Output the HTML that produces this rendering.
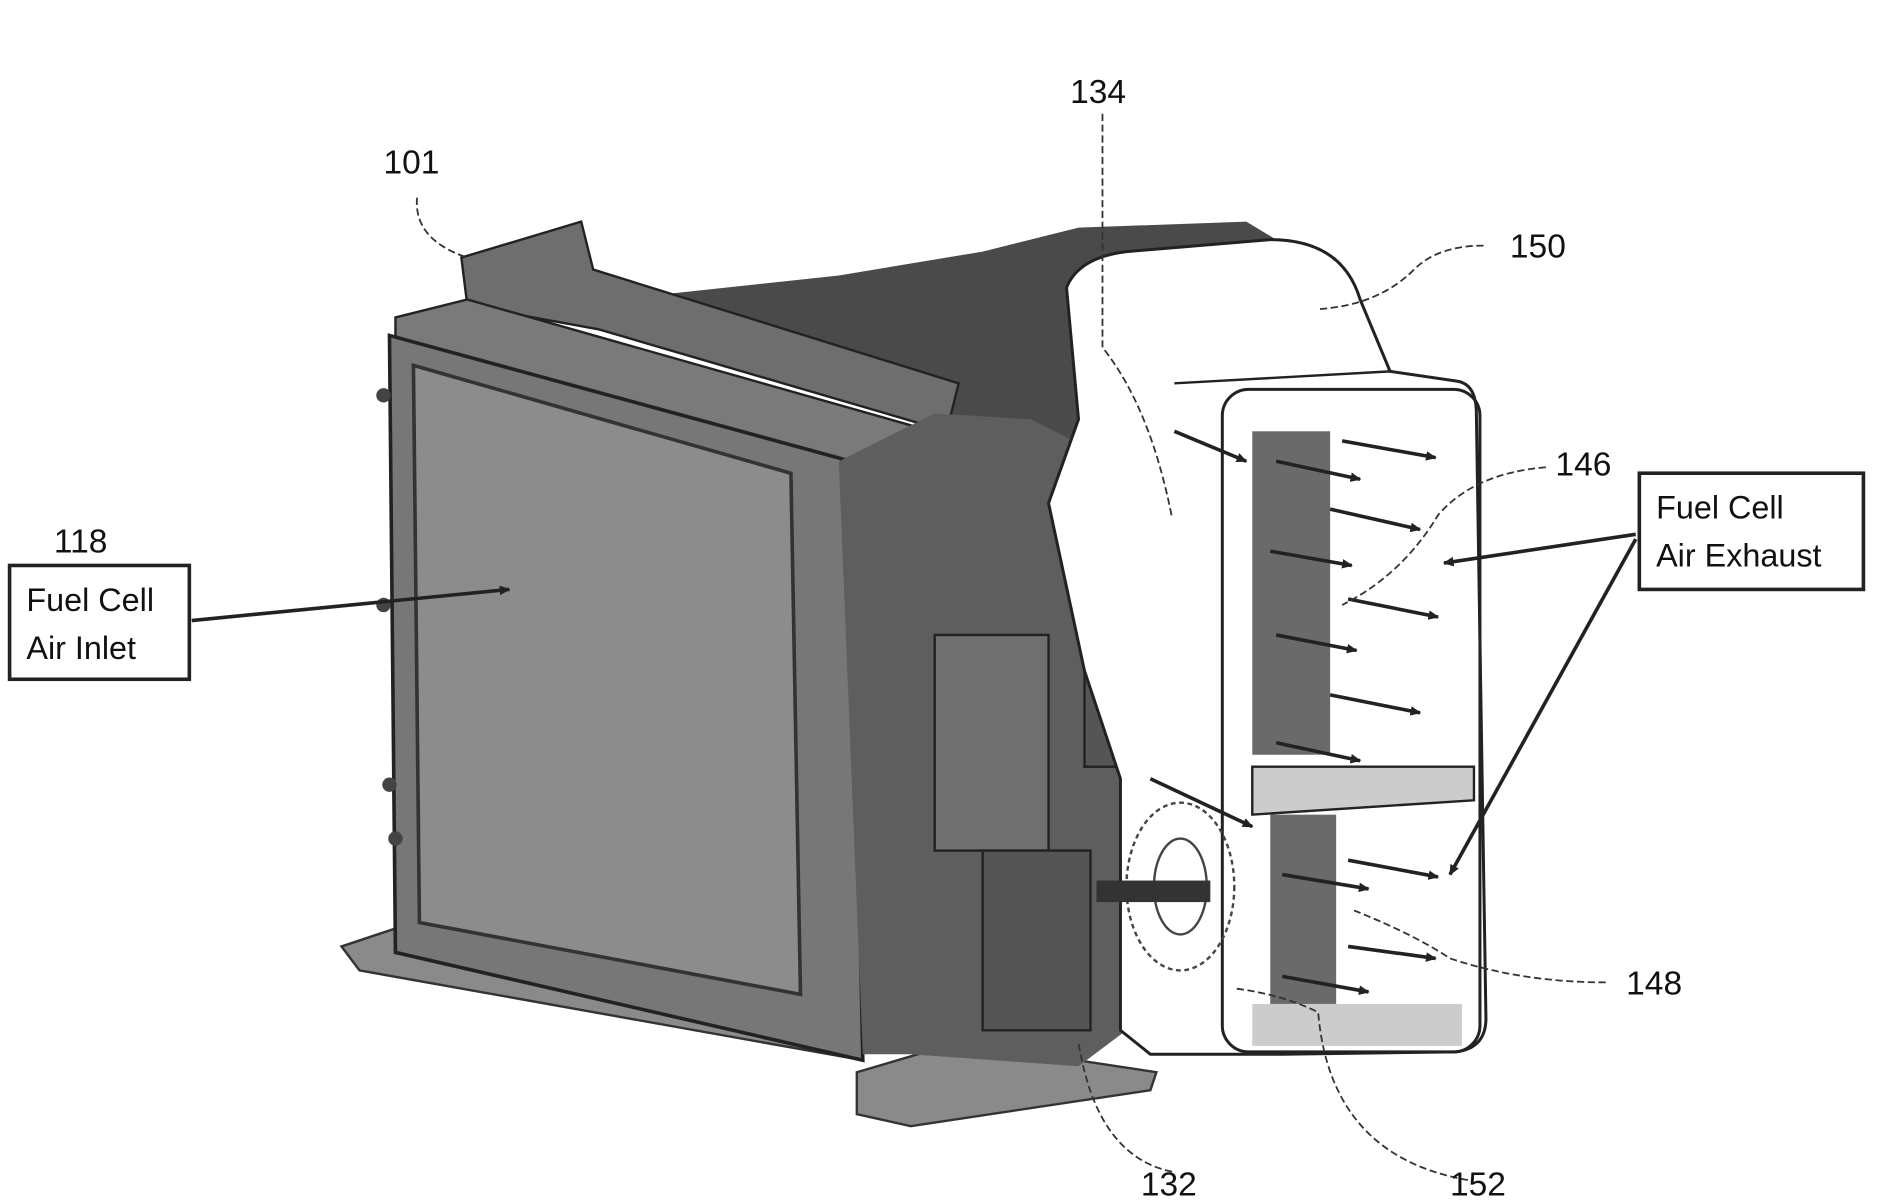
<!DOCTYPE html>
<html><head><meta charset="utf-8"><style>
html,body{margin:0;padding:0;background:#fff;}
svg{display:block;}
text{font-family:"Liberation Sans",sans-serif;fill:#111;}
</style></head><body>
<svg width="1879" height="1204" viewBox="0 0 1568 1005" preserveAspectRatio="none" xmlns="http://www.w3.org/2000/svg">
<defs>
<marker id="ah" markerWidth="10" markerHeight="10" refX="8" refY="5" orient="auto" markerUnits="userSpaceOnUse"><path d="M0,1 L9,5 L0,9 z" fill="#222"/></marker>
</defs>
<!-- left foot -->
<polygon points="285,790 330,775 720,840 720,885 300,810" fill="#8a8a8a" stroke="#333" stroke-width="2"/>
<!-- bottom foot -->
<polygon points="715,895 800,870 965,895 960,910 760,940 715,930" fill="#8a8a8a" stroke="#333" stroke-width="2"/>
<!-- dark top shroud -->
<polygon points="560,245 700,230 820,210 900,190 1040,185 1090,215 950,320 900,390 760,350 600,280" fill="#4a4a4a"/>
<!-- top rail -->
<polygon points="385,215 485,185 495,225 800,320 790,360 500,275 390,255" fill="#6e6e6e" stroke="#222" stroke-width="2"/>
<polygon points="330,265 390,250 760,355 760,385 720,390 330,285" fill="#7a7a7a" stroke="#222" stroke-width="2"/>
<!-- main front box -->
<polygon points="325,280 710,385 720,885 330,795" fill="#777" stroke="#222" stroke-width="3"/>
<polygon points="345,305 660,395 668,830 350,770" fill="#8c8c8c" stroke="#333" stroke-width="3"/>
<!-- side bolts -->
<circle cx="320" cy="330" r="6" fill="#444"/><circle cx="320" cy="505" r="6" fill="#444"/><circle cx="325" cy="655" r="6" fill="#444"/><circle cx="330" cy="700" r="6" fill="#444"/>
<!-- center mechanism -->
<polygon points="700,385 780,345 860,350 920,380 940,650 940,860 900,890 760,880 720,880" fill="#5e5e5e"/>
<rect x="780" y="530" width="95" height="180" fill="#707070" stroke="#222" stroke-width="2"/>
<rect x="820" y="710" width="90" height="150" fill="#555" stroke="#222" stroke-width="2"/>
<rect x="905" y="560" width="70" height="80" fill="#555" stroke="#222" stroke-width="2"/>
<!-- right white housing -->
<path d="M890,240 Q900,215 940,210 L1060,200 Q1120,200 1135,250 L1160,310 L1215,318 Q1232,320 1232,345 L1240,850 Q1240,875 1215,878 L1070,880 L960,880 L935,860 L935,650 L905,560 L875,420 L900,350 Z" fill="#fff" stroke="#222" stroke-width="2.5"/>
<path d="M980,320 L1160,310" stroke="#222" stroke-width="2"/>
<rect x="1020" y="325" width="215" height="553" rx="22" fill="none" stroke="#222" stroke-width="2.5"/>
<rect x="1045" y="360" width="65" height="270" fill="#6a6a6a"/>
<rect x="1060" y="680" width="55" height="180" fill="#6a6a6a"/>
<polygon points="1045,640 1230,640 1230,668 1045,680" fill="#ccc" stroke="#222" stroke-width="2"/>
<rect x="1045" y="838" width="175" height="35" fill="#ccc"/>
<ellipse cx="985" cy="740" rx="45" ry="70" fill="none" stroke="#444" stroke-width="2" stroke-dasharray="4,3"/>
<ellipse cx="985" cy="740" rx="22" ry="40" fill="none" stroke="#444" stroke-width="2"/>
<rect x="915" y="735" width="95" height="18" fill="#333"/>
<!-- exhaust arrows -->
<g stroke="#222" stroke-width="3" marker-end="url(#ah)">
<line x1="1120" y1="368" x2="1198" y2="382"/>
<line x1="1065" y1="385" x2="1135" y2="400"/>
<line x1="1110" y1="425" x2="1185" y2="442"/>
<line x1="1060" y1="460" x2="1128" y2="472"/>
<line x1="1125" y1="500" x2="1200" y2="515"/>
<line x1="1065" y1="530" x2="1132" y2="543"/>
<line x1="1110" y1="580" x2="1185" y2="595"/>
<line x1="1065" y1="620" x2="1135" y2="635"/>
<line x1="1125" y1="718" x2="1200" y2="732"/>
<line x1="1070" y1="730" x2="1142" y2="742"/>
<line x1="1125" y1="790" x2="1198" y2="800"/>
<line x1="1070" y1="815" x2="1142" y2="828"/>
<line x1="980" y1="360" x2="1040" y2="385"/>
<line x1="960" y1="650" x2="1045" y2="690"/>
<line x1="1365" y1="446" x2="1205" y2="470"/>
<line x1="1365" y1="450" x2="1210" y2="730"/>
<line x1="160" y1="518" x2="425" y2="492"/>
</g>
<!-- leader lines -->
<g fill="none" stroke="#333" stroke-width="1.5" stroke-dasharray="6,3">
<path d="M348,165 Q345,200 390,215"/>
<path d="M920,95 L920,290 Q960,340 978,432"/>
<path d="M1238,205 Q1200,205 1180,225 Q1150,255 1100,258"/>
<path d="M1290,390 Q1230,395 1200,430 Q1170,480 1120,505"/>
<path d="M1340,820 Q1270,820 1210,800 Q1180,780 1130,760"/>
<path d="M978,978 Q915,965 900,870"/>
<path d="M1225,985 Q1110,965 1100,845 Q1070,830 1030,825"/>
</g>
<!-- label boxes -->
<rect x="8" y="472" width="150" height="95" fill="#fff" stroke="#222" stroke-width="3"/>
<text x="22" y="510" font-size="27">Fuel Cell</text>
<text x="22" y="550" font-size="27">Air Inlet</text>
<rect x="1368" y="395" width="187" height="97" fill="#fff" stroke="#222" stroke-width="3"/>
<text x="1382" y="433" font-size="27">Fuel Cell</text>
<text x="1382" y="473" font-size="27">Air Exhaust</text>
<!-- numbers -->
<g font-size="28">
<text x="320" y="145">101</text>
<text x="893" y="86">134</text>
<text x="1260" y="215">150</text>
<text x="1298" y="397">146</text>
<text x="45" y="461">118</text>
<text x="1357" y="830">148</text>
<text x="952" y="998">132</text>
<text x="1210" y="998">152</text>
</g>
</svg>
</body></html>
